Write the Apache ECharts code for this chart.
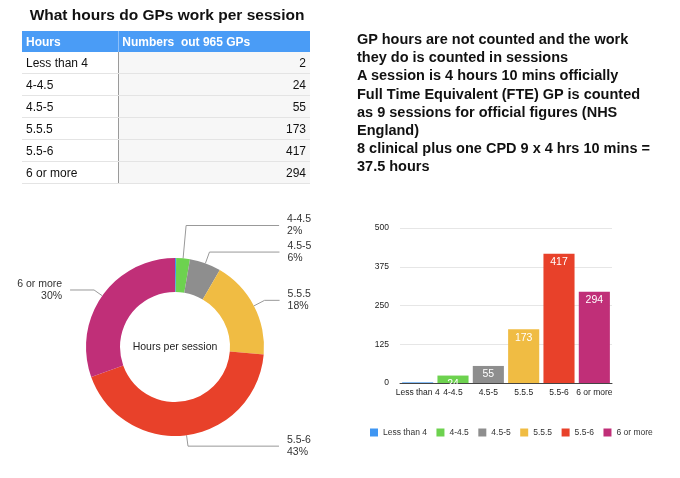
<!DOCTYPE html>
<html>
<head>
<meta charset="utf-8">
<script src="https://cdn.jsdelivr.net/npm/echarts@6/dist/echarts.min.js"></script>
<style>
  html, body { margin: 0; padding: 0; background: #fff; }
  body { width: 680px; height: 478px; position: relative; overflow: hidden;
         font-family: "Liberation Sans", Arial, sans-serif; color: #111; }
  #chart { position: absolute; left: 0; top: 0; width: 680px; height: 478px; }
  .title { position: absolute; left: 0; width: 334px; top: 6px; text-align: center;
           font-weight: bold; font-size: 15.5px; line-height: 18px; }
  table { position: absolute; left: 22px; top: 31px; width: 288px; border-collapse: collapse;
          font-size: 12px; }
  th { background: #4a9cf6; color: #fff; text-align: left; font-weight: bold; height: 21px;
       padding: 0 0 0 4px; white-space: pre; }
  th + th { border-left: 1px solid #8dc0fa; padding-left: 3px; }
  td { height: 21px; padding: 0 0 0 4px; border-bottom: 1px solid #e4e4e4; }
  td + td { background: #f7f7f7; border-left: 1px solid #9a9a9a; text-align: right; padding: 0 4px 0 0; }
  .note { position: absolute; left: 357px; top: 30px; font-weight: bold; font-size: 14.5px;
          line-height: 18.2px; color: #111; }
</style>
</head>
<body>
<div id="chart"></div>
<div class="title">What hours do GPs work per session</div>
<table id="tbl"></table>
<div class="note" id="note"></div>
<script>
const categories = ['Less than 4', '4-4.5', '4.5-5', '5.5.5', '5.5-6', '6 or more'];
const gpCounts = [2, 24, 55, 173, 417, 294];
const colours = ['#3f96f2', '#6dd24f', '#8e8e8e', '#f0bc43', '#e8412a', '#c02f78'];
const yTicks = [0, 125, 250, 375, 500];
const tableHeader = ['Hours', 'Numbers  out 965 GPs'];
const noteLines = [
    'GP hours are not counted and the work',
    'they do is counted in sessions',
    'A session is 4 hours 10 mins officially',
    'Full Time Equivalent (FTE) GP is counted',
    'as 9 sessions for official figures (NHS',
    'England)',
    '8 clinical plus one CPD 9 x 4 hrs 10 mins =',
    '37.5 hours'
];
// donut leader lines: radial part and horizontal part
const leadLen = [0, 33, 12, 12, 11, 10];
const leadLen2 = [0, 93, 70, 15, 91, 24];

// table + side note
let rows = '<tr><th>' + tableHeader[0] + '</th><th>' + tableHeader[1] + '</th></tr>';
categories.forEach((c, i) => {
    rows += '<tr><td>' + c + '</td><td>' + gpCounts[i] + '</td></tr>';
});
document.getElementById('tbl').innerHTML = rows;
document.getElementById('note').innerHTML = noteLines.join('<br>');

const total = gpCounts.reduce((a, b) => a + b, 0);
const font = '"Liberation Sans", Arial, sans-serif';

let myChart = echarts.init(document.getElementById('chart'));
let option = {
    animation: false,
    color: colours,
    textStyle: { fontFamily: font },
    legend: {
        left: 365,
        top: 423,
        icon: 'rect',
        itemWidth: 8,
        itemHeight: 8,
        itemGap: 9.5,
        textStyle: { fontSize: 8.5, color: '#333', fontFamily: font },
        data: categories
    },
    graphic: [{
        type: 'text',
        x: 175,
        y: 347,
        style: {
            text: 'Hours per session',
            align: 'center',
            verticalAlign: 'middle',
            fontSize: 10.5,
            fill: '#222',
            fontFamily: font
        }
    }],
    grid: {
        left: 400,
        right: 68,
        top: 228,
        bottom: 95,
        containLabel: false
    },
    xAxis: {
        type: 'category',
        data: categories,
        axisTick: { show: false },
        axisLine: { lineStyle: { color: '#444', width: 1 } },
        axisLabel: { fontSize: 8.5, color: '#222', margin: 5, interval: 0 }
    },
    yAxis: {
        type: 'value',
        min: yTicks[0],
        max: yTicks[yTicks.length - 1],
        interval: 125,
        axisLabel: { fontSize: 8.5, color: '#222', margin: 11 },
        splitLine: { lineStyle: { color: '#e6e6e6' } }
    },
    series: [
        {
            type: 'pie',
            center: [175, 347],
            radius: [55, 89],
            startAngle: 90,
            clockwise: true,
            avoidLabelOverlap: false,
            label: {
                position: 'outside',
                fontSize: 10.5,
                lineHeight: 12,
                color: '#333',
                distanceToLabelLine: 8,
                formatter: p => p.name + '\n' + Math.round(p.value / total * 100) + '%'
            },
            labelLine: {
                lineStyle: { color: '#999', width: 1 }
            },
            data: categories.map((c, i) => ({
                name: c,
                value: gpCounts[i],
                label: { show: i > 0 },
                labelLine: { show: i > 0, length: leadLen[i], length2: leadLen2[i] }
            }))
        },
        {
            type: 'bar',
            barCategoryGap: '12%',
            data: gpCounts.map((v, i) => ({
                value: v,
                itemStyle: { color: colours[i] },
                label: { show: i > 0 }
            })),
            label: {
                show: true,
                position: 'insideTop',
                distance: 3,
                color: '#fff',
                fontSize: 10.5
            }
        }
    ]
};
myChart.setOption(option);
</script>
</body>
</html>
